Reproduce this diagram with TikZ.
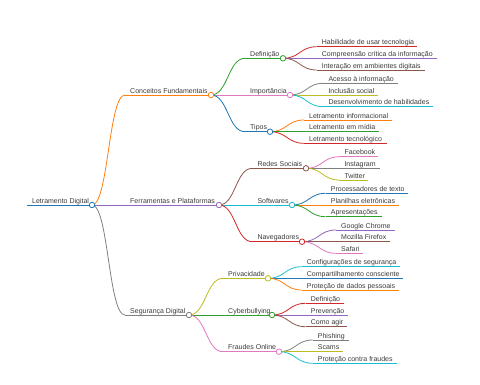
\documentclass[tikz,border=0pt]{standalone}
\usepackage{fontspec}
\setmainfont{Liberation Sans}
\usetikzlibrary{calc}
\definecolor{cblue}{HTML}{1F77B4}
\definecolor{corange}{HTML}{FF7F0E}
\definecolor{cgreen}{HTML}{2CA02C}
\definecolor{cred}{HTML}{D62728}
\definecolor{cpurple}{HTML}{9467BD}
\definecolor{cbrown}{HTML}{8C564B}
\definecolor{cpink}{HTML}{E377C2}
\definecolor{cgray}{HTML}{7F7F7F}
\definecolor{colive}{HTML}{BCBD22}
\definecolor{ccyan}{HTML}{17BECF}
\definecolor{ctext}{HTML}{3A3A3A}
\tikzset{
  mmline/.style={line width=0.8pt},
  mmtext/.style={anchor=base west,inner sep=0pt,text=ctext,font=\fontsize{7}{8}\selectfont},
  mmdot/.style={circle,fill=white,line width=0.8pt,minimum size=5.5pt,inner sep=0pt}
}
\newcommand{\mmitem}[6]{%
  \coordinate (#1s) at (#2,#4);
  \coordinate (#1e) at (#3,#4);
  \draw[mmline,#5] (#1s) -- (#1e);
  \node[mmtext] (#1t) at ([xshift=5pt,yshift=2pt]#1s) {#6};
}
\newcommand{\mmlink}[3]{%
  \draw[mmline,#3] let \p1=(#1e), \p2=(#2s) in (#1e) .. controls ({(\x1+\x2)/2},\y1) and ({(\x1+\x2)/2},\y2) .. (#2s);
}
\newcommand{\mmdotat}[2]{\node[mmdot,draw=#2] (#1c) at (#1e) {};}
\begin{document}
\begin{tikzpicture}[x=1pt,y=-1pt]
\useasboundingbox (0,0) rectangle (480,384);
% root and level 1
\mmitem{r}{27}{92}{205}{cblue}{Letramento Digital}
\mmitem{a}{125}{211}{95}{corange}{Conceitos Fundamentais}
\mmitem{b}{125}{219}{205}{cpurple}{Ferramentas e Plataformas}
\mmitem{c}{125}{189}{315}{cgray}{Segurança Digital}
% level 2
\mmitem{aa}{245}{283}{58.3}{cgreen}{Definição}
\mmitem{ab}{245}{290}{95}{cpink}{Importância}
\mmitem{ac}{245}{270}{131.7}{cblue}{Tipos}
\mmitem{ba}{252.3}{306}{168.3}{cbrown}{Redes Sociais}
\mmitem{bb}{252.3}{292}{205}{ccyan}{Softwares}
\mmitem{bc}{252.3}{302}{241.7}{cred}{Navegadores}
\mmitem{ca}{223}{268}{278.3}{colive}{Privacidade}
\mmitem{cb}{223}{272}{315}{cgreen}{Cyberbullying}
\mmitem{cc}{223}{279}{351.7}{cpink}{Fraudes Online}
% level 3
\mmitem{aaa}{316.7}{416.7}{46.7}{cred}{Habilidade de usar tecnologia}
\mmitem{aab}{316.7}{436.7}{58.3}{cpurple}{Compreensão crítica da informação}
\mmitem{aac}{316.7}{425}{70}{cbrown}{Interação em ambientes digitais}
\mmitem{aba}{323.3}{398}{83.3}{cgray}{Acesso à informação}
\mmitem{abb}{323.3}{378}{95}{colive}{Inclusão social}
\mmitem{abc}{323.3}{433}{106.7}{ccyan}{Desenvolvimento de habilidades}
\mmitem{aca}{304}{392}{120}{corange}{Letramento informacional}
\mmitem{acb}{304}{379}{131.7}{cgreen}{Letramento em mídia}
\mmitem{acc}{304}{387}{143.3}{cred}{Letramento tecnológico}
\mmitem{baa}{339.3}{378}{156.7}{cpink}{Facebook}
\mmitem{bab}{339.3}{380}{168.3}{cgray}{Instagram}
\mmitem{bac}{339.3}{368}{180}{colive}{Twitter}
\mmitem{bba}{325.7}{408}{193.3}{cblue}{Processadores de texto}
\mmitem{bbb}{325.7}{399}{205}{corange}{Planilhas eletrônicas}
\mmitem{bbc}{325.7}{382}{216.7}{cgreen}{Apresentações}
\mmitem{bca}{336}{395}{230}{cpurple}{Google Chrome}
\mmitem{bcb}{336}{390}{241.7}{cbrown}{Mozilla Firefox}
\mmitem{bcc}{336}{363}{253.3}{cpink}{Safari}
\mmitem{caa}{301.7}{400}{266.7}{ccyan}{Configurações de segurança}
\mmitem{cab}{301.7}{403}{278.3}{cblue}{Compartilhamento consciente}
\mmitem{cac}{301.7}{399}{290}{corange}{Proteção de dados pessoais}
\mmitem{cba}{305.7}{344}{303.3}{cred}{Definição}
\mmitem{cbb}{305.7}{348}{315}{cpurple}{Prevenção}
\mmitem{cbc}{305.7}{347}{326.7}{cbrown}{Como agir}
\mmitem{cca}{312.7}{349}{340}{cgray}{Phishing}
\mmitem{ccb}{312.7}{343}{351.7}{colive}{Scams}
\mmitem{ccc}{312.7}{397}{363.3}{ccyan}{Proteção contra fraudes}
% links
\mmlink{r}{a}{corange}
\mmlink{r}{b}{cpurple}
\mmlink{r}{c}{cgray}
\mmlink{a}{aa}{cgreen}
\mmlink{a}{ab}{cpink}
\mmlink{a}{ac}{cblue}
\mmlink{b}{ba}{cbrown}
\mmlink{b}{bb}{ccyan}
\mmlink{b}{bc}{cred}
\mmlink{c}{ca}{colive}
\mmlink{c}{cb}{cgreen}
\mmlink{c}{cc}{cpink}
\mmlink{aa}{aaa}{cred}
\mmlink{aa}{aab}{cpurple}
\mmlink{aa}{aac}{cbrown}
\mmlink{ab}{aba}{cgray}
\mmlink{ab}{abb}{colive}
\mmlink{ab}{abc}{ccyan}
\mmlink{ac}{aca}{corange}
\mmlink{ac}{acb}{cgreen}
\mmlink{ac}{acc}{cred}
\mmlink{ba}{baa}{cpink}
\mmlink{ba}{bab}{cgray}
\mmlink{ba}{bac}{colive}
\mmlink{bb}{bba}{cblue}
\mmlink{bb}{bbb}{corange}
\mmlink{bb}{bbc}{cgreen}
\mmlink{bc}{bca}{cpurple}
\mmlink{bc}{bcb}{cbrown}
\mmlink{bc}{bcc}{cpink}
\mmlink{ca}{caa}{ccyan}
\mmlink{ca}{cab}{cblue}
\mmlink{ca}{cac}{corange}
\mmlink{cb}{cba}{cred}
\mmlink{cb}{cbb}{cpurple}
\mmlink{cb}{cbc}{cbrown}
\mmlink{cc}{cca}{cgray}
\mmlink{cc}{ccb}{colive}
\mmlink{cc}{ccc}{ccyan}
% dots
\mmdotat{r}{cblue}
\mmdotat{a}{corange}
\mmdotat{b}{cpurple}
\mmdotat{c}{cgray}
\mmdotat{aa}{cgreen}
\mmdotat{ab}{cpink}
\mmdotat{ac}{cblue}
\mmdotat{ba}{cbrown}
\mmdotat{bb}{ccyan}
\mmdotat{bc}{cred}
\mmdotat{ca}{colive}
\mmdotat{cb}{cgreen}
\mmdotat{cc}{cpink}
\end{tikzpicture}
\end{document}
